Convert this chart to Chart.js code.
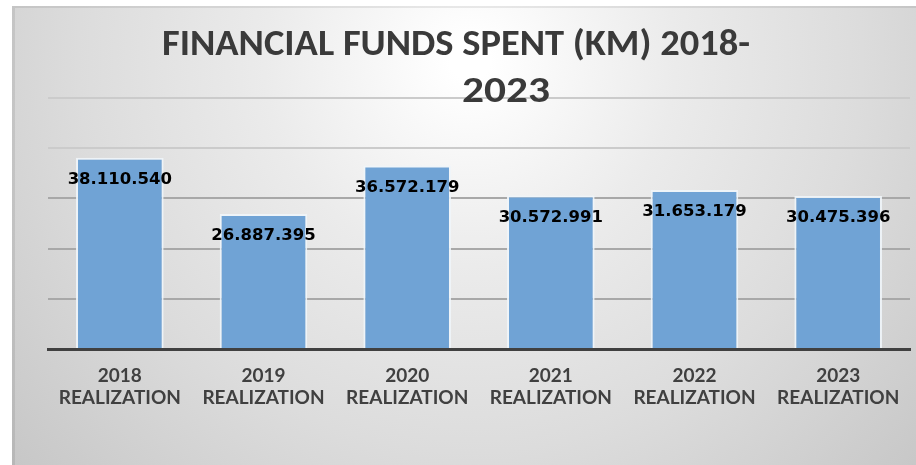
<!DOCTYPE html>
<html>
<head>
<meta charset="utf-8">
<title>Financial funds spent</title>
<script src="https://cdn.jsdelivr.net/npm/chart.js@4.4.1/dist/chart.umd.min.js"></script>
<style>
  html, body { margin: 0; padding: 0; background: #fff; }
  #wrap { width: 916px; height: 465px; position: relative; }
</style>
</head>
<body>
<div id="wrap"><canvas id="fundsChart"></canvas></div>
<script>
// data
const years = ["2018", "2019", "2020", "2021", "2022", "2023"];
const values = [38110540, 26887395, 36572179, 30572991, 31653179, 30475396];
const yTicks = [0, 10000000, 20000000, 30000000, 40000000, 50000000];
const titleLines = ["FINANCIAL FUNDS SPENT (KM) 2018-", "2023"];

const labels = years.map(y => [y, "REALIZATION"]);

// 38110540 -> 38.110.540
function dotted(n) {
  return String(n).replace(/\B(?=(\d{3})+(?!\d))/g, ".");
}

// grey box with a light spot behind the title
const backdrop = {
  id: "backdrop",
  beforeDraw(chart) {
    const ctx = chart.ctx;
    ctx.save();
    ctx.fillStyle = "#ffffff";
    ctx.fillRect(0, 0, chart.width, chart.height);
    const g = ctx.createRadialGradient(470, 60, 20, 470, 60, 640);
    g.addColorStop(0, "#ffffff");
    g.addColorStop(0.3, "#ebebeb");
    g.addColorStop(0.6, "#dcdcdc");
    g.addColorStop(1, "#c4c4c4");
    ctx.fillStyle = g;
    ctx.fillRect(12, 6, chart.width - 12, chart.height - 6);
    ctx.fillStyle = "rgba(0,0,0,0.08)";
    ctx.fillRect(12, 6, chart.width - 12, 2);
    ctx.fillRect(12, 8, 3, chart.height - 8);
    ctx.restore();
  }
};

// bold title, squeezed to the width seen in the picture
const titleText = {
  id: "titleText",
  afterDraw(chart) {
    const ctx = chart.ctx;
    ctx.save();
    ctx.font = "bold 36px Carlito, Lato";
    ctx.fillStyle = "#3a3a3a";
    ctx.textAlign = "center";
    ctx.textBaseline = "alphabetic";
    const rows = [
      { text: titleLines[0], cx: 456, base: 55, w: 588 },
      { text: titleLines[1], cx: 506, base: 102, w: 88 }
    ];
    rows.forEach(r => {
      const sx = r.w / ctx.measureText(r.text).width;
      ctx.save();
      ctx.translate(r.cx, r.base);
      ctx.scale(sx, 1);
      ctx.fillText(r.text, 0, 0);
      ctx.restore();
    });
    ctx.restore();
  }
};

// value labels just under the top of each bar
const barValues = {
  id: "barValues",
  afterDatasetsDraw(chart) {
    const ctx = chart.ctx;
    const meta = chart.getDatasetMeta(0);
    ctx.save();
    ctx.font = "bold 16.5px 'DejaVu Sans'";
    ctx.fillStyle = "#000";
    ctx.textAlign = "center";
    ctx.textBaseline = "middle";
    meta.data.forEach((bar, i) => {
      ctx.fillText(dotted(values[i]), bar.x, bar.y + 22);
    });
    ctx.restore();
  }
};

const ctx = document.getElementById("fundsChart");

new Chart(ctx, {
  type: "bar",
  data: {
    labels: labels,
    datasets: [{
      data: values,
      backgroundColor: "#70a3d5",
      borderColor: "rgba(240,245,250,0.9)",
      borderWidth: { top: 2, left: 2, right: 2, bottom: 0 },
      categoryPercentage: 1,
      barPercentage: 0.61
    }]
  },
  options: {
    responsive: true,
    maintainAspectRatio: false,
    animation: false,
    layout: {
      padding: { left: 48, right: 6, top: 98, bottom: 0 }
    },
    plugins: {
      legend: { display: false },
      title: { display: false },
      tooltip: { enabled: false }
    },
    scales: {
      x: {
        grid: { display: false, drawTicks: false },
        border: { display: true, color: "#404040", width: 3 },
        ticks: {
          color: "#404040",
          padding: 15,
          maxRotation: 0,
          font: { family: "Lato, Carlito", weight: "bold", size: 19, lineHeight: 1.2 }
        },
        afterFit(scale) { scale.height = 116; }
      },
      y: {
        min: yTicks[0],
        max: yTicks[yTicks.length - 1],
        afterBuildTicks(scale) { scale.ticks = yTicks.map(v => ({ value: v })); },
        grid: {
          color: (c) => c.tick && c.tick.value >= 40000000 ? "#cbcbcb" : "#a8a8a8",
          lineWidth: 2,
          drawTicks: false
        },
        border: { display: false },
        ticks: { display: false },
        afterFit(scale) { scale.width = 0; }
      }
    }
  },
  plugins: [backdrop, titleText, barValues]
});
</script>
</body>
</html>
